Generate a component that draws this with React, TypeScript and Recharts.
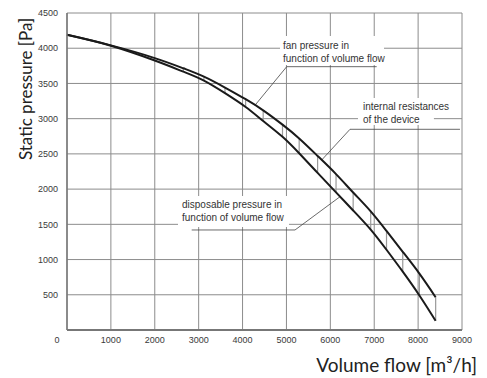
import React from "react";
import {
  LineChart,
  Line,
  XAxis,
  YAxis,
  CartesianGrid,
  ReferenceLine,
  ReferenceArea,
} from "recharts";

// volume flow [m3/h] at the sampled points (hatches drawn from 2650 on)
const flow = [0, 1000, 2000, 2650, 3120, 3600, 4070, 4470, 4910, 5290, 5710, 6130, 6520, 6920, 7280, 7650, 8030, 8400];
// fan pressure in function of volume flow [Pa]
const fanPressure = [4190, 4040, 3860, 3715, 3597, 3442, 3276, 3118, 2915, 2719, 2471, 2213, 1952, 1684, 1406, 1110, 800, 465];
// disposable pressure in function of volume flow [Pa]
const disposablePressure = [4190, 4035, 3825, 3667, 3540, 3362, 3166, 2967, 2743, 2509, 2231, 1954, 1697, 1425, 1139, 828, 490, 130];

const xTicks = [0, 1000, 2000, 3000, 4000, 5000, 6000, 7000, 8000, 9000];
const yTicks = [500, 1000, 1500, 2000, 2500, 3000, 3500, 4000, 4500];

const data = flow.map((f, i) => ({
  flow: f,
  fan: fanPressure[i],
  disp: disposablePressure[i],
}));

const tickFont = "'Liberation Sans', Arial, sans-serif";
const titleFont = "Lato, 'Open Sans', sans-serif";

const XTick = (props: any) => {
  const { x, y, payload } = props;
  return (
    <text
      x={payload.value === 0 ? x - 10 : x}
      y={y}
      dy="0.71em"
      textAnchor="middle"
      fontSize={9}
      fontFamily={tickFont}
      fill="#3a3a3a"
    >
      {payload.value}
    </text>
  );
};

const note = (lines: string[], dx: number, dys: number[]) => (props: any) => {
  const vb = props.viewBox;
  return (
    <text fontSize={10} fontFamily={tickFont} fill="#333">
      {lines.map((l, i) => (
        <tspan key={i} x={vb.x + dx} y={vb.y + dys[i]}>
          {l}
        </tspan>
      ))}
    </text>
  );
};

const leader = { stroke: "#444", strokeWidth: 0.8 };

export default function App() {
  return (
    <div style={{ position: "absolute", left: 0, top: 0, background: "#fff" }}>
      <LineChart
        width={487}
        height={378}
        data={data}
        margin={{ top: 13, right: 25, left: 0, bottom: 0 }}
      >
        <CartesianGrid stroke="#8c8c8c" strokeWidth={1} />
        <XAxis
          type="number"
          dataKey="flow"
          domain={[0, 9000]}
          ticks={xTicks}
          interval={0}
          height={48}
          tickSize={0}
          tickMargin={7}
          tickLine={false}
          axisLine={{ stroke: "#777", strokeWidth: 2 }}
          tick={<XTick />}
          label={{
            content: () => (
              <text
                x={477}
                y={372}
                textAnchor="end"
                fontSize={19}
                fontFamily={titleFont}
                fill="#222"
              >
                Volume flow [m³/h]
              </text>
            ),
          }}
        />
        <YAxis
          type="number"
          domain={[0, 4500]}
          ticks={yTicks}
          interval={0}
          width={67}
          tickSize={0}
          tickMargin={9}
          tickLine={false}
          axisLine={{ stroke: "#777", strokeWidth: 1.5 }}
          tick={{ fontSize: 9, fill: "#3a3a3a", fontFamily: tickFont }}
          label={{
            content: () => (
              <text
                transform="translate(32,89) rotate(-90)"
                textAnchor="middle"
                fontSize={17}
                fontFamily={titleFont}
                fill="#222"
              >
                Static pressure [Pa]
              </text>
            ),
          }}
        />

        {/* white boxes behind the annotation texts */}
        <ReferenceArea
          x1={4853} x2={7223} y1={3762} y2={4174}
          fill="#fff" fillOpacity={1} stroke="none" ifOverflow="visible"
          label={note(["fan pressure in", "function of volume flow"], 3, [13, 25.7])}
        />
        <ReferenceArea
          x1={6630} x2={8360} y1={2910} y2={3294}
          fill="#fff" fillOpacity={1} stroke="none" ifOverflow="visible"
          label={note(["internal resistances", "of the device"], 5, [12, 24.6])}
        />
        <ReferenceArea
          x1={2529} x2={5058} y1={1462} y2={1902}
          fill="#fff" fillOpacity={1} stroke="none" ifOverflow="visible"
          label={note(["disposable pressure in", "function of volume flow"], 4, [11.7, 25])}
        />

        {/* internal resistances hatch between the two curves */}
        {data
          .filter((d) => d.flow >= 2650)
          .map((d) => (
            <ReferenceLine
              key={d.flow}
              segment={[
                { x: d.flow, y: d.disp },
                { x: d.flow, y: d.fan },
              ]}
              stroke="#999"
              strokeWidth={1.2}
            />
          ))}

        {/* leader lines */}
        <ReferenceLine segment={[{ x: 7056, y: 3738 }, { x: 5006, y: 3738 }]} {...leader} />
        <ReferenceLine segment={[{ x: 5006, y: 3738 }, { x: 4283, y: 3190 }]} {...leader} />
        <ReferenceLine segment={[{ x: 8954, y: 2849 }, { x: 6448, y: 2849 }]} {...leader} />
        <ReferenceLine segment={[{ x: 6448, y: 2849 }, { x: 5803, y: 2413 }]} {...leader} />
        <ReferenceLine segment={[{ x: 2841, y: 1420 }, { x: 5195, y: 1420 }]} {...leader} />
        <ReferenceLine segment={[{ x: 5195, y: 1420 }, { x: 6220, y: 1892 }]} {...leader} />

        <Line
          type="natural"
          dataKey="fan"
          stroke="#1a1a1a"
          strokeWidth={2}
          dot={false}
          isAnimationActive={false}
        />
        <Line
          type="natural"
          dataKey="disp"
          stroke="#1a1a1a"
          strokeWidth={2}
          dot={false}
          isAnimationActive={false}
        />
      </LineChart>
    </div>
  );
}
